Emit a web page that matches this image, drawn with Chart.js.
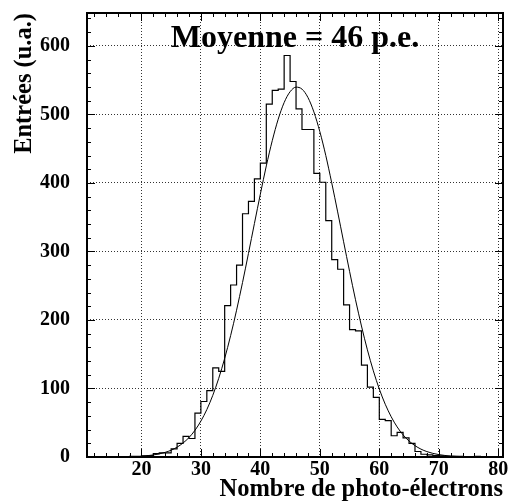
<!DOCTYPE html>
<html>
<head>
<meta charset="utf-8">
<script src="https://cdn.jsdelivr.net/npm/chart.js@4"></script>
<style>
  html, body { margin: 0; padding: 0; background: #fff; }
  #boite { width: 510px; height: 504px; }
</style>
</head>
<body>
<div id="boite"><canvas id="chartPhotoElectrons"></canvas></div>
<script>
// Histogramme : bords inférieurs des bins (largeur 1 p.e.) et contenus
const binEdges = [11, 12, 13, 14, 15, 16, 17, 18, 19, 20, 21, 22, 23, 24, 25, 26, 27, 28, 29, 30,
    31, 32, 33, 34, 35, 36, 37, 38, 39, 40, 41, 42, 43, 44, 45, 46, 47, 48, 49, 50,
    51, 52, 53, 54, 55, 56, 57, 58, 59, 60, 61, 62, 63, 64, 65, 66, 67, 68, 69, 70,
    71, 72, 73, 74, 75, 76, 77, 78, 79, 80];
const binCounts = [0, 0, 0, 0, 0, 0, 0, 0.5, 1, 1, 1.5, 2, 5, 6, 6, 12, 20, 30, 27, 64,
    81, 97, 130, 125, 221, 251, 280, 355, 373, 406, 429, 515, 535, 537, 586, 548, 508, 478, 478, 414,
    401, 345, 288, 274, 222, 186, 184, 134, 102, 87, 55, 53, 31, 36, 28, 20, 8, 4, 3, 2,
    1.5, 1, 1, 1, 0.5, 0.5, 1, 0.5, 0];

// Ajustement gaussien
const fitX = [20, 21, 22, 23, 24, 25, 26, 27, 28, 29, 30, 31, 32, 33, 34, 35, 36, 37, 38, 39,
    40, 41, 42, 43, 44, 45, 46, 47, 48, 49, 50, 51, 52, 53, 54, 55, 56, 57, 58, 59,
    60, 61, 62, 63, 64, 65, 66, 67, 68, 69, 70, 71, 72, 73, 74];
const fitY = [1.2, 1.9, 3, 4.5, 6.8, 9.9, 14.4, 20.4, 28.4, 38.9, 52.4, 69.2, 90, 114.8, 143.9, 177.1, 214.2, 254.6, 297.1, 340.7,
    383.7, 424.8, 461.6, 493, 517.3, 533.1, 539.8, 536.9, 524.7, 503.6, 474.9, 440.1, 400.1, 357.7, 314.1, 271, 229.5, 191.2, 156.4, 125.7,
    99.2, 77, 58.7, 43.9, 32.3, 23.3, 16.6, 11.5, 7.9, 5.3, 3.5, 2.3, 1.45, 0.9, 0.56];

// Graduations
const xTicks = [20, 30, 40, 50, 60, 70, 80];
const yTicks = [0, 100, 200, 300, 400, 500, 600];

const titre = 'Moyenne = 46 p.e.';
const serif = '"Liberation Serif", "Times New Roman", serif';

Chart.defaults.font.family = serif;
Chart.defaults.font.weight = 'bold';
Chart.defaults.color = '#000';

// Points du contour de l'histogramme (dernier bord répété pour fermer le dernier bin)
const histoPoints = binEdges.map((e, i) => ({ x: e, y: binCounts[Math.min(i, binCounts.length - 1)] }));
const fitPoints = fitX.map((v, i) => ({ x: v, y: fitY[i] }));

// pas de marge automatique autour des axes : le cadre est fixé par layout.padding
function sansMarge(s) {
    s.paddingTop = 0;
    s.paddingBottom = 0;
    s.paddingLeft = 0;
    s.paddingRight = 0;
}

// Cadre, petites graduations internes et titre dans le cadre
const cadrePlugin = {
    id: 'cadre',
    afterDraw(chart) {
        const { ctx, chartArea: a, scales: { x, y } } = chart;
        ctx.save();
        ctx.strokeStyle = '#000';
        ctx.lineWidth = 1;
        ctx.beginPath();
        for (let v = 12; v <= 80; v += 2) {
            const px = Math.round(x.getPixelForValue(v)) + 0.5;
            const l = v % 10 === 0 ? 8 : 4;
            ctx.moveTo(px, a.bottom); ctx.lineTo(px, a.bottom - l);
            ctx.moveTo(px, a.top); ctx.lineTo(px, a.top + l);
        }
        for (let v = 20; v <= 640; v += 20) {
            const py = Math.round(y.getPixelForValue(v)) + 0.5;
            const l = v % 100 === 0 ? 8 : 4;
            ctx.moveTo(a.left, py); ctx.lineTo(a.left + l, py);
            ctx.moveTo(a.right, py); ctx.lineTo(a.right - l, py);
        }
        ctx.stroke();
        ctx.lineWidth = 2;
        ctx.strokeRect(a.left, a.top, a.right - a.left, a.bottom - a.top);
        ctx.fillStyle = '#000';
        ctx.font = 'bold 32px ' + serif;
        ctx.textAlign = 'center';
        ctx.textBaseline = 'alphabetic';
        ctx.fillText(titre, (a.left + a.right) / 2, a.top + 34);
        ctx.restore();
    }
};

const ctx = document.getElementById('chartPhotoElectrons').getContext('2d');
new Chart(ctx, {
    type: 'line',
    data: {
        datasets: [
            {
                label: 'Histogramme',
                data: histoPoints,
                stepped: 'after',
                borderColor: '#000',
                borderWidth: 1.2,
                pointRadius: 0,
                fill: false
            },
            {
                label: 'Ajustement',
                data: fitPoints,
                borderColor: '#000',
                borderWidth: 1,
                pointRadius: 0,
                tension: 0.4,
                cubicInterpolationMode: 'monotone',
                fill: false
            }
        ]
    },
    options: {
        responsive: true,
        maintainAspectRatio: false,
        animation: false,
        layout: { padding: { top: 13, right: 7, left: 0, bottom: 0 } },
        plugins: {
            legend: { display: false },
            tooltip: { enabled: false }
        },
        scales: {
            x: {
                type: 'linear',
                min: 10.85,
                max: 80.8,
                afterBuildTicks: s => { s.ticks = xTicks.map(v => ({ value: v })); },
                afterFit: s => { s.height = 47; sansMarge(s); },
                grid: { color: '#333', drawTicks: false },
                border: { display: false, dash: [1, 2] },
                ticks: { padding: 1, font: { size: 20, weight: 'bold' } },
                title: {
                    display: true,
                    text: 'Nombre de photo-électrons',
                    align: 'end',
                    font: { size: 24.5, weight: 'bold' },
                    padding: { top: 0, bottom: 0 }
                }
            },
            y: {
                min: 0,
                max: 648,
                afterBuildTicks: s => { s.ticks = yTicks.map(v => ({ value: v })); },
                afterFit: s => { s.width = 87; sansMarge(s); },
                grid: { color: '#333', drawTicks: false },
                border: { display: false, dash: [1, 2] },
                ticks: { padding: 17, font: { size: 20, weight: 'bold' } },
                title: {
                    display: true,
                    text: 'Entrées (u.a.)',
                    align: 'end',
                    font: { size: 24.5, weight: 'bold' },
                    padding: { top: 10, bottom: 0 }
                }
            }
        }
    },
    plugins: [cadrePlugin]
});
</script>
</body>
</html>
